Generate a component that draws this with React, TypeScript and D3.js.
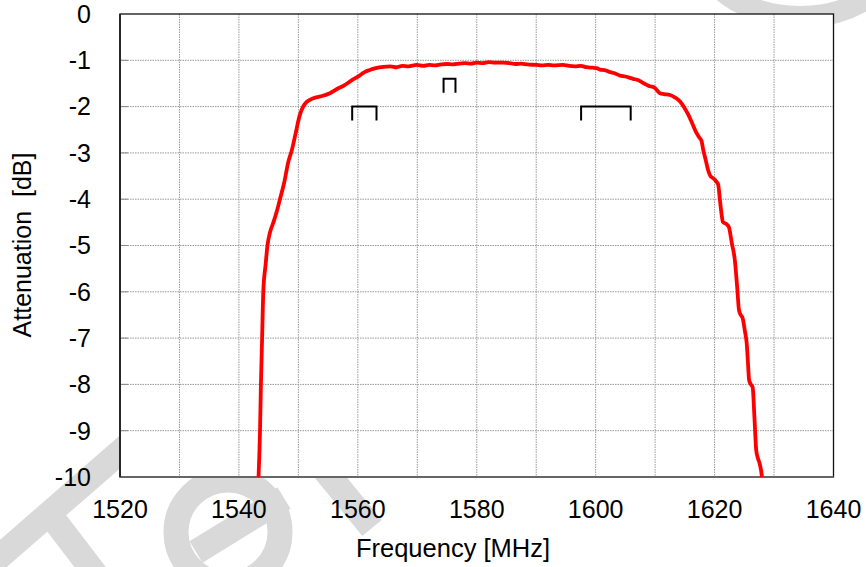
import React from "react";
import * as d3 from "d3";

const freq = [
  1543.2, 1543.3, 1543.55, 1543.7, 1543.9, 1544.1, 1544.5, 1544.8, 1545.2, 1545.8, 1546.4, 1546.9,
  1547.6, 1548.3, 1548.9, 1549.5, 1550.2, 1550.8, 1551.4, 1552, 1553, 1554, 1555.3, 1556.5, 1557.6,
  1559, 1560.4, 1561.2, 1562, 1563, 1564.3, 1565.5, 1566.5, 1567.5, 1568.5, 1569.9, 1571, 1572,
  1573, 1574, 1574.9, 1576, 1577, 1578, 1579, 1580, 1581, 1582, 1583, 1584.4, 1585.5, 1586.5,
  1587.5, 1588.5, 1590.1, 1591, 1592, 1593, 1594.5, 1595.5, 1596.5, 1597.5, 1598.5, 1599.5,
  1600.2, 1600.7, 1601.5, 1602.3, 1603.2, 1604.1, 1605, 1606.3, 1607.2, 1608, 1608.6, 1609.1,
  1609.8, 1610.4, 1610.8, 1611.5, 1612.5, 1613.3, 1614.2, 1614.9, 1615.6, 1616.3, 1617, 1617.5,
  1617.8, 1618.1, 1618.5, 1618.9, 1619.3, 1619.8, 1620.3, 1620.6, 1620.9, 1621.2, 1621.4, 1622,
  1622.4, 1622.9, 1623.4, 1623.8, 1624.1, 1624.4, 1624.7, 1625.1, 1625.4, 1625.6, 1625.8, 1626.1,
  1626.4, 1626.7, 1627, 1627.3, 1627.6, 1628, 1628.1,
];
const atten = [
  -10.3, -10, -9.0, -8.0, -7.0, -6.0, -5.4, -5.0, -4.73, -4.5, -4.25, -4.0,
  -3.65, -3.2, -2.94, -2.6, -2.2, -2.0, -1.9, -1.85, -1.8, -1.77, -1.71, -1.62, -1.55,
  -1.43, -1.32, -1.25, -1.21, -1.17, -1.14, -1.13, -1.15, -1.12, -1.13, -1.1, -1.12, -1.1,
  -1.11, -1.09, -1.08, -1.09, -1.07, -1.06, -1.07, -1.05, -1.06, -1.04, -1.05, -1.05, -1.06, -1.08,
  -1.07, -1.09, -1.1, -1.11, -1.1, -1.11, -1.1, -1.12, -1.13, -1.12, -1.15, -1.16,
  -1.17, -1.2, -1.21, -1.25, -1.28, -1.33, -1.35, -1.4, -1.43, -1.49, -1.53, -1.56,
  -1.58, -1.66, -1.71, -1.73, -1.75, -1.8, -1.89, -2.02, -2.18, -2.38, -2.58, -2.68,
  -2.74, -2.94, -3.15, -3.37, -3.5, -3.55, -3.62, -3.68, -4.02, -4.35, -4.49, -4.54,
  -4.6, -4.95, -5.31, -5.9, -6.39, -6.5, -6.56, -6.85, -7.11, -7.5, -7.9, -8.0,
  -8.06, -8.7, -9.42, -9.6, -9.72, -10.05, -10.3,
];

const xTicks = [1520, 1540, 1560, 1580, 1600, 1620, 1640];
const xGrid = [1530, 1540, 1550, 1560, 1570, 1580, 1590, 1600, 1610, 1620, 1630];
const yTicks = [0, -1, -2, -3, -4, -5, -6, -7, -8, -9, -10];

const bandStart = [1559.05, 1574.42, 1597.55];
const bandEnd = [1563.14, 1576.42, 1605.89];
const bandTop = [-2, -1.4, -2];
const bandLeg = 0.3;

const W = 866;
const H = 567;
const L = 120;
const R = 833.5;
const T = 14;
const B = 477;

const FONT = "'Liberation Sans', Arial, sans-serif";

export default function App() {
  const x = d3.scaleLinear().domain([1520, 1640]).range([L, R]);
  const y = d3.scaleLinear().domain([0, -10]).range([T, B]);
  const pts: [number, number][] = freq.map((f, i) => [f, atten[i]]);
  const line = d3
    .line<[number, number]>()
    .x((d) => x(d[0]))
    .y((d) => y(d[1]))
    .curve(d3.curveMonotoneX);

  const wm = "#d9d9d9";

  return (
    <div style={{ position: "fixed", left: 0, top: 0 }}>
      <svg width={W} height={H} style={{ display: "block", background: "#fff" }}>
        <defs>
          <clipPath id="plotclip">
            <rect x={L} y={T} width={R - L} height={B - T} />
          </clipPath>
        </defs>
        {/* watermark fragments */}
        <g fill="none" stroke={wm} strokeWidth={25}>
          <line x1={128} y1={445} x2={-10} y2={565} />
          <line x1={48} y1={512} x2={100} y2={580} />
          <circle cx={228} cy={532} r={52} />
          <line x1={284} y1={498} x2={196} y2={552} />
          <line x1={318} y1={462} x2={372} y2={528} />
          <ellipse cx={800} cy={-55} rx={100} ry={72} strokeWidth={22} />
        </g>
        <rect x={L} y={T} width={R - L} height={B - T} fill="#fff" />
        {/* grid */}
        <g stroke="#999" strokeWidth={1} strokeDasharray="1.5,1">
          {xGrid.map((g) => (
            <line key={"xg" + g} x1={x(g)} x2={x(g)} y1={T} y2={B} />
          ))}
          {yTicks.slice(1, -1).map((g) => (
            <line key={"yg" + g} x1={L} x2={R} y1={y(g)} y2={y(g)} />
          ))}
        </g>
        <g stroke="#888" strokeWidth={1}>
          {yTicks.slice(1, -1).map((g) => (
            <line key={"yt" + g} x1={L} x2={L + 8} y1={y(g)} y2={y(g)} />
          ))}
        </g>
        {/* border */}
        <rect x={L} y={T} width={R - L} height={B - T} fill="none" stroke="#111" strokeWidth={1.3} />
        <line x1={L} x2={R} y1={B} y2={B} stroke="#666" strokeWidth={2} />
        <line x1={L} x2={L} y1={T} y2={B} stroke="#222" strokeWidth={1.8} />
        {/* curve */}
        <g clipPath="url(#plotclip)">
          <path d={line(pts) || ""} fill="none" stroke="#ff0000" strokeWidth={3.8} strokeLinejoin="round" />
        </g>
        {/* band brackets */}
        <g fill="none" stroke="#000" strokeWidth={2}>
          {bandStart.map((s, i) => (
            <path
              key={"b" + i}
              d={`M${x(s)},${y(bandTop[i] - bandLeg)} L${x(s)},${y(bandTop[i])} L${x(bandEnd[i])},${y(
                bandTop[i]
              )} L${x(bandEnd[i])},${y(bandTop[i] - bandLeg)}`}
            />
          ))}
        </g>
        {/* y tick labels */}
        <g fontFamily={FONT} fontSize={25} fill="#000" textAnchor="end">
          {yTicks.map((t) => (
            <text key={"yl" + t} x={91} y={y(t) + 8.8}>
              {t}
            </text>
          ))}
        </g>
        {/* x tick labels */}
        <g fontFamily={FONT} fontSize={25} fill="#000" textAnchor="middle">
          {xTicks.map((t) => (
            <text key={"xl" + t} x={x(t)} y={518}>
              {t}
            </text>
          ))}
        </g>
        <text x={453} y={556.5} fontFamily={FONT} fontSize={25.5} textAnchor="middle" fill="#000">
          Frequency [MHz]
        </text>
        <text
          transform="translate(31,245) rotate(-90)"
          fontFamily={FONT}
          fontSize={25}
          textAnchor="middle"
          fill="#000"
          style={{ whiteSpace: "pre" }}
        >
          {"Attenuation  [dB]"}
        </text>
      </svg>
    </div>
  );
}
